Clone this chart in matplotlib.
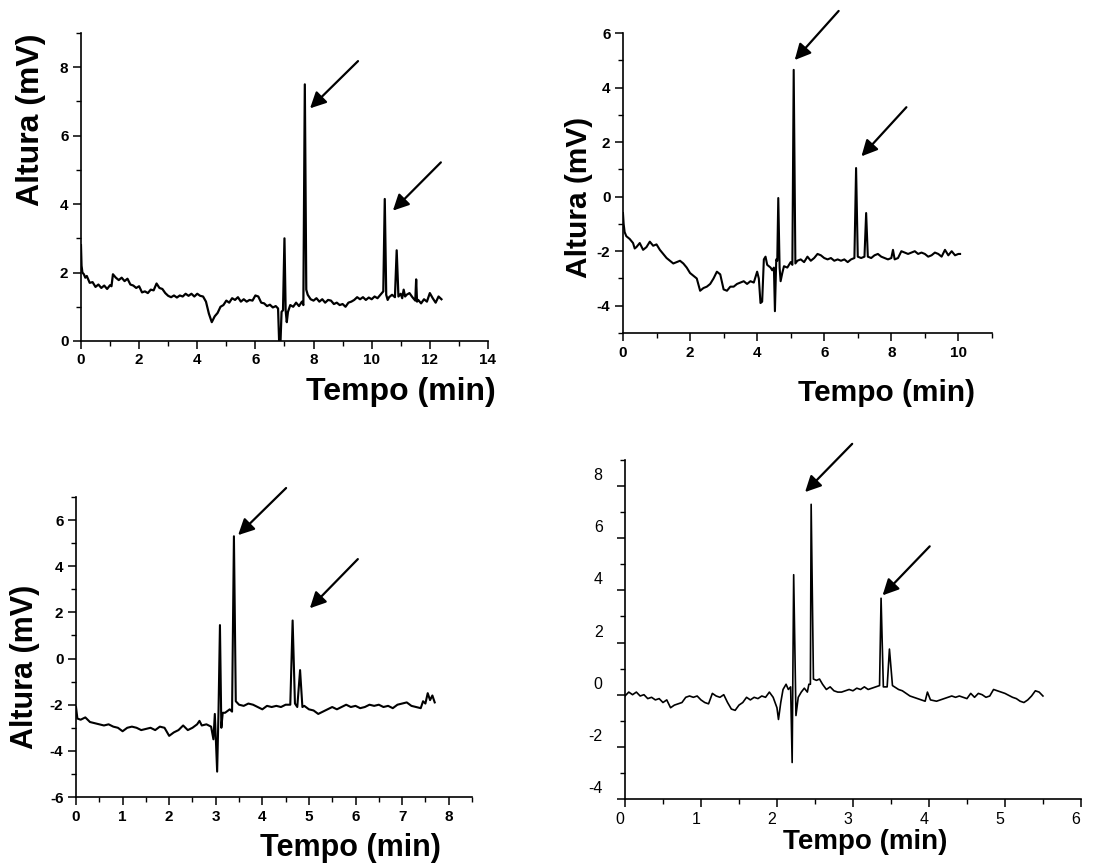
import matplotlib
matplotlib.use('Agg')
import matplotlib.pyplot as plt
from matplotlib.ticker import MultipleLocator
from matplotlib.transforms import ScaledTranslation

plt.rcParams['font.family'] = ['Liberation Sans', 'DejaVu Sans']
plt.rcParams['axes.unicode_minus'] = False

OUTPUT = 'out.png'

XLABEL = 'Tempo (min)'
YLABEL = 'Altura (mV)'

# panel A (top left)
t_a = [0.0, 0.02, 0.05, 0.1, 0.15, 0.2, 0.3, 0.4, 0.5, 0.6, 0.7, 0.8, 0.9, 1.0, 1.05,
       1.1, 1.2, 1.3, 1.4, 1.5, 1.6, 1.7, 1.8, 1.9, 2.0, 2.1, 2.2, 2.3, 2.4, 2.5,
       2.6, 2.7, 2.8, 2.9, 3.0, 3.1, 3.2, 3.3, 3.4, 3.5, 3.6, 3.7, 3.8, 3.9, 4.0,
       4.1, 4.2, 4.3, 4.4, 4.5, 4.6, 4.7, 4.8, 4.9, 5.0, 5.1, 5.2, 5.3, 5.4, 5.5,
       5.6, 5.7, 5.8, 5.9, 6.0, 6.1, 6.2, 6.3, 6.4, 6.5, 6.6, 6.7, 6.78, 6.82, 6.86,
       6.9, 6.95, 7.0, 7.04, 7.08, 7.12, 7.2, 7.3, 7.4, 7.5, 7.6, 7.65, 7.7, 7.75,
       7.8, 7.9, 8.0, 8.1, 8.2, 8.3, 8.4, 8.5, 8.6, 8.7, 8.8, 8.9, 9.0, 9.1, 9.2,
       9.3, 9.4, 9.5, 9.6, 9.7, 9.8, 9.9, 10.0, 10.1, 10.2, 10.3, 10.4, 10.45, 10.5,
       10.55, 10.6, 10.7, 10.8, 10.86, 10.92, 11.0, 11.05, 11.1, 11.15, 11.2, 11.3,
       11.4, 11.5, 11.53, 11.56, 11.6, 11.7, 11.8, 11.9, 12.0, 12.1, 12.2, 12.3, 12.4]
v_a = [2.8, 2.2, 2.0, 1.95, 1.85, 1.9, 1.7, 1.72, 1.58, 1.65, 1.55, 1.62, 1.52, 1.63, 1.6,
       1.95, 1.85, 1.78, 1.85, 1.75, 1.82, 1.65, 1.62, 1.55, 1.6, 1.42, 1.45, 1.4, 1.5, 1.48,
       1.68, 1.55, 1.52, 1.4, 1.32, 1.28, 1.33, 1.27, 1.33, 1.3, 1.38, 1.32, 1.38, 1.3, 1.38,
       1.32, 1.3, 1.15, 0.8, 0.55, 0.72, 0.82, 1.0, 1.05, 1.18, 1.12, 1.25, 1.2, 1.28, 1.15,
       1.22, 1.15, 1.2, 1.18, 1.33, 1.3, 1.12, 1.1, 1.02, 1.06, 0.98, 1.02, 0.95, -0.1, -0.1,
       0.85, 0.9, 3.0, 0.9, 0.55, 0.85, 1.05, 1.0, 1.12, 1.02, 1.15, 1.05, 7.5, 1.5,
       1.35, 1.22, 1.18, 1.25, 1.15, 1.22, 1.12, 1.2, 1.18, 1.08, 1.12, 1.05, 1.08, 1.0, 1.12,
       1.15, 1.2, 1.28, 1.22, 1.28, 1.2, 1.27, 1.22, 1.3, 1.25, 1.35, 1.45, 4.15, 1.35,
       1.2, 1.28, 1.35, 1.28, 2.65, 1.3, 1.38, 1.25, 1.5, 1.3, 1.35, 1.4,
       1.28, 1.18, 1.8, 1.15, 1.2, 1.1, 1.22, 1.15, 1.4, 1.25, 1.12, 1.3, 1.22]

# panel B (top right)
t_b = [0.0, 0.02, 0.05, 0.1, 0.2, 0.3, 0.35, 0.4, 0.5, 0.6, 0.7, 0.8, 0.9, 1.0, 1.1,
       1.2, 1.3, 1.4, 1.5, 1.6, 1.7, 1.8, 1.9, 2.0, 2.1, 2.2, 2.3, 2.4, 2.5, 2.6,
       2.7, 2.8, 2.9, 3.0, 3.1, 3.2, 3.3, 3.4, 3.5, 3.6, 3.7, 3.8, 3.9, 4.0, 4.05,
       4.1, 4.15, 4.2, 4.25, 4.3, 4.4, 4.45, 4.5, 4.53, 4.57, 4.6, 4.63, 4.67, 4.7, 4.75,
       4.8, 4.9, 5.0, 5.05, 5.09, 5.14, 5.2, 5.3, 5.4, 5.5, 5.6, 5.7, 5.8, 5.9, 6.0,
       6.1, 6.2, 6.3, 6.4, 6.5, 6.6, 6.7, 6.8, 6.9, 6.95, 7.0, 7.1, 7.2, 7.25, 7.3,
       7.4, 7.5, 7.6, 7.7, 7.8, 7.9, 8.0, 8.05, 8.1, 8.2, 8.3, 8.4, 8.5, 8.6, 8.7,
       8.8, 8.9, 9.0, 9.1, 9.2, 9.3, 9.4, 9.5, 9.6, 9.7, 9.8, 9.9, 10.0, 10.05]
v_b = [-0.6, -1.0, -1.3, -1.45, -1.55, -1.7, -1.9, -1.85, -1.7, -1.95, -1.85, -1.65, -1.8, -1.75, -1.95,
       -2.1, -2.25, -2.35, -2.45, -2.4, -2.35, -2.45, -2.6, -2.8, -2.9, -3.0, -3.45, -3.35, -3.3, -3.2,
       -3.0, -2.75, -2.85, -3.4, -3.45, -3.3, -3.3, -3.2, -3.15, -3.1, -3.2, -3.1, -3.15, -2.75, -3.0,
       -3.9, -3.85, -2.3, -2.2, -2.5, -2.6, -2.7, -2.6, -4.2, -2.3, -2.35, -0.05, -2.6, -3.1, -2.8,
       -2.55, -2.6, -2.4, -2.5, 4.65, -2.45, -2.35, -2.3, -2.4, -2.2, -2.35, -2.25, -2.1, -2.15, -2.25,
       -2.3, -2.25, -2.35, -2.3, -2.35, -2.3, -2.4, -2.3, -2.25, 1.05, -2.2, -2.25, -2.2, -0.6, -2.2,
       -2.25, -2.15, -2.1, -2.2, -2.25, -2.3, -2.25, -1.95, -2.3, -2.25, -2.0, -2.05, -2.1, -2.05, -2.0,
       -2.1, -2.05, -2.1, -2.2, -2.15, -2.05, -2.1, -2.2, -1.95, -2.15, -2.0, -2.15, -2.1, -2.1]

# panel C (bottom left)
t_c = [0.0, 0.03, 0.1, 0.2, 0.3, 0.4, 0.5, 0.6, 0.7, 0.8, 0.9, 1.0, 1.1, 1.2, 1.3,
       1.4, 1.5, 1.6, 1.7, 1.8, 1.9, 2.0, 2.1, 2.2, 2.3, 2.4, 2.5, 2.6, 2.65, 2.7,
       2.8, 2.9, 2.95, 2.98, 3.03, 3.06, 3.09, 3.12, 3.15, 3.2, 3.3, 3.35, 3.39, 3.43, 3.5,
       3.6, 3.7, 3.8, 3.9, 4.0, 4.1, 4.2, 4.3, 4.4, 4.5, 4.6, 4.65, 4.7, 4.75, 4.81,
       4.86, 4.9, 5.0, 5.1, 5.2, 5.3, 5.4, 5.5, 5.6, 5.7, 5.8, 5.9, 6.0, 6.1, 6.2,
       6.3, 6.4, 6.5, 6.6, 6.7, 6.8, 6.9, 7.0, 7.1, 7.2, 7.3, 7.4, 7.45, 7.5, 7.55,
       7.6, 7.65, 7.7]
v_c = [-2.1, -2.6, -2.65, -2.55, -2.75, -2.8, -2.85, -2.9, -2.85, -2.95, -3.0, -3.15, -3.0, -2.95, -3.0,
       -3.1, -3.05, -3.0, -3.1, -2.95, -3.0, -3.35, -3.2, -3.1, -2.9, -3.1, -3.0, -2.85, -2.7, -2.9,
       -2.85, -2.95, -3.5, -2.4, -4.9, -2.2, 1.45, -3.0, -2.35, -2.35, -2.2, -2.3, 5.3, -1.85, -2.0,
       -2.05, -1.95, -2.0, -2.1, -2.2, -2.05, -2.1, -2.05, -2.1, -2.0, -2.0, 1.65, -1.95, -2.1, -0.5,
       -2.1, -2.05, -2.2, -2.25, -2.4, -2.3, -2.2, -2.1, -2.2, -2.1, -2.0, -2.1, -2.05, -2.15, -2.1,
       -2.0, -2.05, -2.0, -2.1, -2.05, -2.15, -2.0, -1.95, -1.9, -2.05, -2.1, -2.15, -1.85, -1.95, -1.5,
       -1.8, -1.6, -1.9]

# panel D (bottom right)
t_d = [0.0, 0.05, 0.1, 0.15, 0.2, 0.25, 0.3, 0.35, 0.4, 0.45, 0.5, 0.55, 0.6, 0.65, 0.7,
       0.75, 0.8, 0.85, 0.9, 0.95, 1.0, 1.05, 1.1, 1.15, 1.2, 1.25, 1.3, 1.35, 1.4, 1.45,
       1.5, 1.55, 1.6, 1.65, 1.7, 1.75, 1.8, 1.85, 1.9, 1.95, 2.0, 2.02, 2.05, 2.08, 2.12,
       2.15, 2.18, 2.2, 2.22, 2.25, 2.28, 2.32, 2.36, 2.4, 2.42, 2.44, 2.45, 2.48, 2.52, 2.56,
       2.6, 2.65, 2.7, 2.75, 2.8, 2.85, 2.9, 2.95, 3.0, 3.05, 3.1, 3.15, 3.2, 3.25, 3.3,
       3.35, 3.37, 3.4, 3.45, 3.48, 3.52, 3.6, 3.65, 3.7, 3.75, 3.8, 3.85, 3.9, 3.95, 3.98,
       4.02, 4.1, 4.2, 4.3, 4.35, 4.4, 4.5, 4.55, 4.6, 4.65, 4.7, 4.75, 4.8, 4.85, 4.9,
       5.0, 5.1, 5.15, 5.2, 5.25, 5.3, 5.35, 5.4, 5.45, 5.5]
v_d = [-0.05, 0.1, 0.0, 0.1, -0.05, 0.0, -0.15, -0.1, -0.2, -0.15, -0.3, -0.2, -0.5, -0.4, -0.35,
       -0.3, -0.1, -0.05, -0.1, -0.05, -0.2, -0.3, -0.35, 0.05, -0.05, -0.1, 0.0, -0.3, -0.55, -0.6,
       -0.4, -0.3, -0.1, -0.2, -0.1, -0.15, -0.05, -0.1, 0.1, -0.1, -0.5, -0.95, -0.3, 0.2, 0.4,
       0.2, 0.3, -2.6, 4.6, -0.8, -0.1, 0.1, 0.25, 0.1, 0.4, 0.4, 7.3, 0.6, 0.55, 0.6,
       0.4, 0.2, 0.3, 0.15, 0.1, 0.1, 0.15, 0.2, 0.15, 0.25, 0.2, 0.3, 0.2, 0.25, 0.3,
       0.35, 3.7, 0.3, 0.3, 1.75, 0.35, 0.2, 0.15, 0.05, -0.05, -0.1, -0.15, -0.2, -0.25, 0.1,
       -0.2, -0.25, -0.15, -0.05, -0.1, -0.05, -0.15, 0.05, -0.1, 0.05, 0.0, -0.1, -0.05, 0.2, 0.15,
       0.05, -0.1, -0.15, -0.25, -0.3, -0.2, -0.05, 0.15, 0.1, -0.05]


def style_axes(ax, xlim, ylim, xmaj, ymaj, bold=True, fs=11):
    ax.set_xlim(*xlim)
    ax.set_ylim(*ylim)
    ax.xaxis.set_major_locator(MultipleLocator(xmaj))
    ax.xaxis.set_minor_locator(MultipleLocator(xmaj / 2))
    ax.yaxis.set_major_locator(MultipleLocator(ymaj))
    ax.yaxis.set_minor_locator(MultipleLocator(ymaj / 2))
    for side in ['top', 'right']:
        ax.spines[side].set_visible(False)
    for side in ['left', 'bottom']:
        ax.spines[side].set_linewidth(1.2)
    ax.tick_params(which='major', direction='out', length=6, width=1.1, pad=3,
                   labelsize=fs)
    ax.tick_params(which='minor', direction='out', length=3.5, width=1.0)
    weight = 'bold' if bold else 'normal'
    for lab in ax.get_xticklabels() + ax.get_yticklabels():
        lab.set_fontweight(weight)


def add_arrow(ax, tail, head):
    ax.annotate('', xy=head, xytext=tail, annotation_clip=False,
                arrowprops=dict(arrowstyle='-|>', color='black', lw=1.6,
                                mutation_scale=24, shrinkA=0, shrinkB=0))


def set_labels(ax, xpos, ypos=None, fs=23, ylabel=True):
    ax.set_xlabel(XLABEL, fontsize=fs, fontweight='bold', ha='center', va='center')
    ax.xaxis.set_label_coords(*xpos)
    if ylabel:
        ax.set_ylabel(YLABEL, fontsize=fs, fontweight='bold', ha='center', va='center')
        ax.yaxis.set_label_coords(*ypos)


def main():
    fig = plt.figure(figsize=(11.03, 8.65), dpi=100)

    ax1 = fig.add_axes([0.0734, 0.6058, 0.369, 0.356])
    ax2 = fig.add_axes([0.5648, 0.615, 0.3345, 0.3468])
    ax3 = fig.add_axes([0.0689, 0.0786, 0.359, 0.3468])
    ax4 = fig.add_axes([0.5666, 0.0763, 0.4134, 0.3919])

    ax1.plot(t_a, v_a, color='black', lw=1.6)
    ax2.plot(t_b, v_b, color='black', lw=1.5)
    ax3.plot(t_c, v_c, color='black', lw=1.5)
    ax4.plot(t_d, v_d, color='black', lw=1.2)

    style_axes(ax1, (0, 14), (0, 9), 2, 2)
    style_axes(ax2, (0, 11), (-5, 6), 2, 2)
    style_axes(ax3, (0, 8.5), (-6, 7), 1, 2)
    style_axes(ax4, (0, 6), (-4, 9), 1, 2, bold=False, fs=11.5)

    set_labels(ax1, (0.786, -0.166), (-0.123, 0.718), fs=23)
    set_labels(ax2, (0.715, -0.20), (-0.119, 0.453), fs=21.5)
    set_labels(ax3, (0.692, -0.17), (-0.129, 0.433), fs=22)
    set_labels(ax4, (0.526, -0.127), fs=20, ylabel=False)

    # panel D has its tick labels drawn slightly off the ticks
    ax4.tick_params(axis='y', which='major', pad=10)
    for lab in ax4.get_yticklabels():
        lab.set_transform(lab.get_transform() + ScaledTranslation(0, 0.12, fig.dpi_scale_trans))
    for lab in ax4.get_xticklabels():
        lab.set_transform(lab.get_transform() + ScaledTranslation(-0.05, 0, fig.dpi_scale_trans))

    add_arrow(ax1, (9.53, 8.18), (7.88, 6.80))
    add_arrow(ax1, (12.38, 5.22), (10.73, 3.81))
    add_arrow(ax2, (6.43, 6.81), (5.12, 5.01))
    add_arrow(ax2, (8.45, 3.28), (7.11, 1.48))
    add_arrow(ax3, (4.51, 7.39), (3.48, 5.35))
    add_arrow(ax3, (6.05, 4.31), (5.02, 2.18))
    add_arrow(ax4, (2.99, 9.62), (2.37, 7.77))
    add_arrow(ax4, (4.01, 5.69), (3.39, 3.81))

    fig.savefig(OUTPUT, dpi=100)
    plt.close(fig)


if __name__ == '__main__':
    main()
